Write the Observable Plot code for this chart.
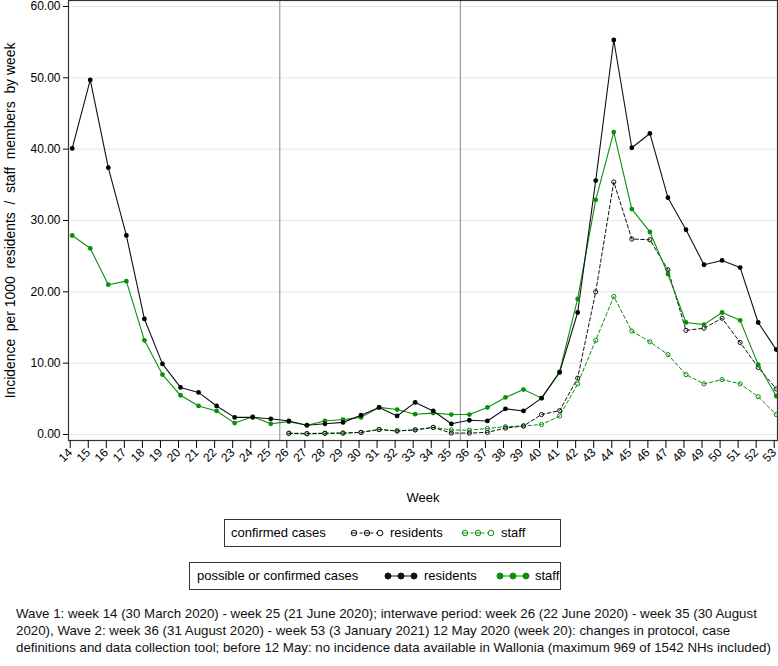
<!DOCTYPE html>
<html><head><meta charset="utf-8">
<script src="https://cdn.jsdelivr.net/npm/d3@7"></script>
<script src="https://cdn.jsdelivr.net/npm/@observablehq/plot@0.6"></script>
<style>
body{margin:0;background:#fff;font-family:"Liberation Sans",Arial,Helvetica,sans-serif;color:#000;}
#wrap{position:relative;width:778px;height:666px;overflow:hidden;}
#chart svg text{white-space:pre;}
.box{position:absolute;border:1px solid #333;box-sizing:border-box;height:28px;font-size:13px;}
.box .t{position:absolute;top:5px;white-space:nowrap;}
.box svg{position:absolute;top:7px;}
#caption{position:absolute;left:16px;top:605px;font-size:13.3px;line-height:17px;white-space:nowrap;color:#111;}
</style></head>
<body><div id="wrap"><div id="chart"></div>
<div class="box" id="box1" style="left:224px;top:519px;width:337px;"></div>
<div class="box" id="box2" style="left:189px;top:562px;width:372px;"></div>
<div id="caption">
<div>Wave 1: week 14 (30 March 2020) - week 25 (21 June 2020); interwave period: week 26 (22 June 2020) - week 35 (30 August</div>
<div>2020), Wave 2: week 36 (31 August 2020) - week 53 (3 January 2021) 12 May 2020 (week 20): changes in protocol, case</div>
<div>definitions and data collection tool; before 12 May: no incidence data available in Wallonia (maximum 969 of 1542 NHs included)</div>
</div>
</div>
<script>
// ---- data ----
const weeks = [14,15,16,17,18,19,20,21,22,23,24,25,26,27,28,29,30,31,32,33,34,35,36,37,38,39,40,41,42,43,44,45,46,47,48,49,50,51,52,53];
const possibleResidents = [40.1,49.7,37.4,27.9,16.2,9.9,6.6,5.9,4.0,2.4,2.4,2.2,1.9,1.3,1.5,1.7,2.7,3.8,2.6,4.5,3.3,1.5,2.0,1.9,3.6,3.3,5.1,8.7,17.1,35.6,55.3,40.2,42.2,33.2,28.7,23.8,24.4,23.4,15.7,11.9];
const possibleStaff = [27.9,26.1,21.0,21.5,13.2,8.4,5.5,4.0,3.3,1.6,2.5,1.5,1.8,1.3,1.9,2.1,2.4,3.8,3.5,2.85,3.0,2.8,2.8,3.8,5.2,6.3,5.1,8.8,19.0,32.9,42.4,31.6,28.4,22.5,15.7,15.4,17.1,16.0,9.8,5.4];
const confirmedWeeks = [26,27,28,29,30,31,32,33,34,35,36,37,38,39,40,41,42,43,44,45,46,47,48,49,50,51,52,53];
const confirmedResidents = [0.15,0.1,0.15,0.2,0.3,0.7,0.5,0.65,1.0,0.2,0.2,0.3,0.9,1.2,2.8,3.35,7.9,20.0,35.4,27.4,27.3,23.1,14.6,14.9,16.3,12.9,9.4,6.4];
const confirmedStaff = [0.2,0.15,0.2,0.2,0.3,0.7,0.5,0.65,1.0,0.65,0.6,0.85,1.1,1.2,1.4,2.6,7.1,13.2,19.35,14.5,13.0,11.2,8.4,7.1,7.7,7.1,5.3,2.8];
const yTicks = [0,10,20,30,40,50,60];
const waveBounds = [25.5, 35.5];
const yLabel = "Incidence  per 1000  residents  /  staff  members  by week";
const xLabel = "Week";

const BLACK = "#111", GREEN = "#0a8f0a";
const pr = weeks.map((w,i)=>({week:w, v:possibleResidents[i]}));
const ps = weeks.map((w,i)=>({week:w, v:possibleStaff[i]}));
const cr = confirmedWeeks.map((w,i)=>({week:w, v:confirmedResidents[i]}));
const cs = confirmedWeeks.map((w,i)=>({week:w, v:confirmedStaff[i]}));

const chart = Plot.plot({
  width: 778, height: 510,
  marginTop: 0, marginBottom: 70, marginLeft: 68, marginRight: 1,
  style: {fontFamily: '"Liberation Sans", Arial, sans-serif', fontSize: "12px", color: "#000", background: "#fff"},
  x: {domain: [13.795, 53.07], label: null},
  y: {domain: [-0.84, 60.84], label: null},
  marks: [
    Plot.gridY(yTicks, {stroke: "#e6e6e6", strokeOpacity: 1}),
    Plot.ruleX(waveBounds, {stroke: "#8a8a8a", strokeWidth: 1}),
    Plot.line(cs, {x: "week", y: "v", stroke: GREEN, strokeWidth: 1, strokeDasharray: "3.5,2.5"}),
    Plot.line(cr, {x: "week", y: "v", stroke: BLACK, strokeWidth: 1, strokeDasharray: "3.5,2.5"}),
    Plot.dot(cs, {x: "week", y: "v", r: 2.1, stroke: GREEN, fill: "none", strokeWidth: 1}),
    Plot.dot(cr, {x: "week", y: "v", r: 2.1, stroke: BLACK, fill: "none", strokeWidth: 1}),
    Plot.line(ps, {x: "week", y: "v", stroke: GREEN, strokeWidth: 1.1}),
    Plot.line(pr, {x: "week", y: "v", stroke: BLACK, strokeWidth: 1.1}),
    Plot.dot(ps, {x: "week", y: "v", r: 2.4, fill: GREEN}),
    Plot.dot(pr, {x: "week", y: "v", r: 2.4, fill: "#000"}),
    Plot.frame({stroke: "#333", strokeWidth: 1.2}),
    Plot.axisY(yTicks, {tickFormat: d3.format(".2f"), tickSize: 5, tickPadding: 3, fontSize: 12}),
    Plot.axisX(weeks, {tickFormat: d => String(d), tickRotate: -45, tickSize: 8, tickPadding: 2, dx: -2, fontSize: 12}),
    Plot.text([xLabel], {frameAnchor: "bottom", dy: 61, fontSize: 13}),
    Plot.text([yLabel], {frameAnchor: "left", textAnchor: "middle", rotate: -90, dx: -58, dy: 0, fontSize: 13.9})
  ]
});
document.getElementById("chart").append(chart);

// ---- legend swatches ----
function swatch(color, dashed) {
  const s = d3.create("svg").attr("width", 34).attr("height", 12);
  s.append("line").attr("x1", 4).attr("x2", 30).attr("y1", 6).attr("y2", 6)
    .attr("stroke", color).attr("stroke-width", 1).attr("stroke-dasharray", dashed ? "3,2.5" : null);
  [4, 17, 30].forEach(cx => s.append("circle").attr("cx", cx).attr("cy", 6).attr("r", dashed ? 2.8 : 3)
    .attr("fill", dashed ? "#fff" : color).attr("stroke", color).attr("stroke-width", 1));
  if (dashed) [4, 17].forEach(cx => s.append("line").attr("x1", cx-2.8).attr("x2", cx+2.8).attr("y1", 6).attr("y2", 6).attr("stroke", color));
  return s.node();
}
function fillBox(id, title, offs) {
  const b = document.getElementById(id);
  const add = (txt, left) => { const e = document.createElement("span"); e.className = "t"; e.textContent = txt; e.style.left = left + "px"; b.append(e); };
  add(title, offs[0]);
  const s1 = swatch(BLACK, offs.dashed); s1.style.left = offs[1] + "px"; b.append(s1);
  add("residents", offs[2]);
  const s2 = swatch(GREEN, offs.dashed); s2.style.left = offs[3] + "px"; b.append(s2);
  add("staff", offs[4]);
}
const o1 = [6, 125, 165, 236, 276]; o1.dashed = true;
const o2 = [7, 194, 234, 306, 345]; o2.dashed = false;
fillBox("box1", "confirmed cases", o1);
fillBox("box2", "possible or confirmed cases", o2);
</script>
</body></html>
